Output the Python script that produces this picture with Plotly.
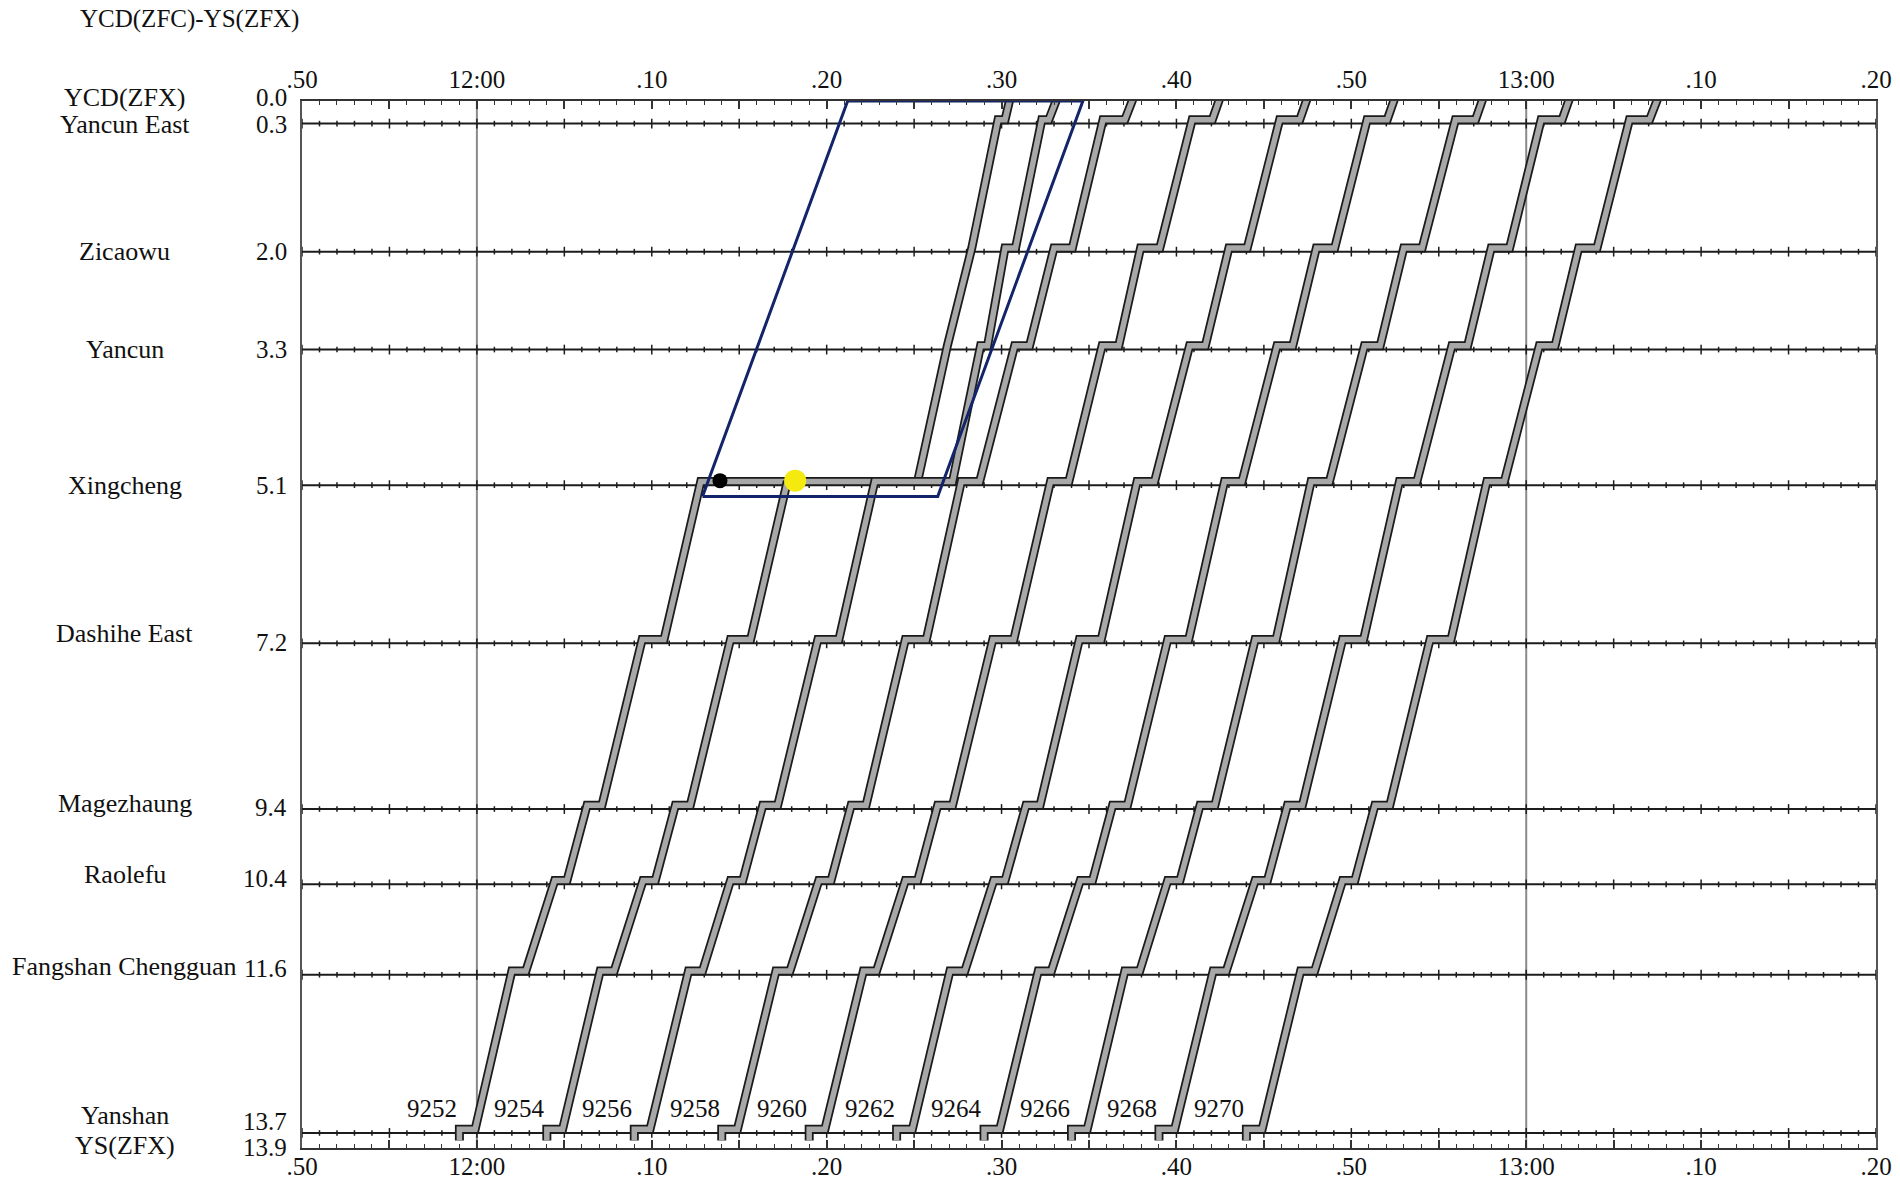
import plotly.graph_objects as go

# stations along the line, km from YCD(ZFX)
station_names = ["YCD(ZFX)", "Yancun East", "Zicaowu", "Yancun", "Xingcheng", "Dashihe East",
                 "Magezhaung", "Raolefu", "Fangshan Chengguan", "Yanshan", "YS(ZFX)"]
station_km = [0.0, 0.3, 2.0, 3.3, 5.1, 7.2, 9.4, 10.4, 11.6, 13.7, 13.9]
station_km_text = ["0.0", "0.3", "2.0", "3.3", "5.1", "7.2", "9.4", "10.4", "11.6", "13.7", "13.9"]

# stops of the up trains: Yanshan -> YCD(ZFX)
route_km = [13.7, 11.6, 10.4, 9.4, 7.2, 5.1, 3.3, 2.0, 0.3, 0.0]

# time axis (minutes after 12:00)
time_ticks = [-10, 0, 10, 20, 30, 40, 50, 60, 70, 80]
time_labels = [".50", "12:00", ".10", ".20", ".30", ".40", ".50", "13:00", ".10", ".20"]
hour_lines = [0, 60]

# arrival / departure per stop of route_km, minutes after 12:00
train_ids = ["9252", "9254", "9256", "9258", "9260", "9262", "9264", "9266", "9268", "9270"]
arr_9252 = [-1.0, 2.0, 4.45, 6.3, 9.45, 12.8, 26.9, 28.3, 29.8, 30.5]
dep_9252 = [-0.1, 2.8, 5.15, 7.15, 10.7, 25.2, 26.9, 28.3, 30.2]
arr_9254 = [4.0, 7.05, 9.5, 11.35, 14.5, 17.75, None, None, None, None]
dep_9254 = [4.9, 7.85, 10.2, 12.2, 15.65, None, None, None, None]
arr_9256 = [9.0, 12.1, 14.5, 16.35, 19.5, 22.75, 28.8, 30.2, 32.3, 33.2]
dep_9256 = [9.9, 12.9, 15.2, 17.2, 20.7, 27.2, 29.2, 30.8, 32.7]
arr_9258 = [14.0, 17.1, 19.55, 21.4, 24.5, 27.7, 30.75, 33.0, 35.8, 37.55]
dep_9258 = [14.9, 17.9, 20.25, 22.25, 25.7, 28.75, 31.6, 34.05, 37.05]
arr_9260 = [19.0, 22.1, 24.5, 26.35, 29.5, 32.8, 35.75, 37.95, 40.9, 42.5]
dep_9260 = [19.9, 22.85, 25.2, 27.2, 30.7, 33.85, 36.7, 39.05, 42.05]
arr_9262 = [24.0, 27.05, 29.55, 31.4, 34.45, 37.75, 40.75, 43.0, 45.9, 47.5]
dep_9262 = [24.9, 27.9, 30.2, 32.2, 35.7, 38.75, 41.65, 44.05, 47.05]
arr_9264 = [29.0, 32.1, 34.5, 36.35, 39.5, 42.75, 45.75, 48.0, 50.9, 52.5]
dep_9264 = [29.9, 32.85, 35.2, 37.2, 40.7, 43.75, 46.65, 49.05, 52.05]
arr_9266 = [34.0, 37.05, 39.5, 41.35, 44.5, 47.7, 50.75, 53.0, 55.95, 57.55]
dep_9266 = [34.9, 37.9, 40.2, 42.2, 45.7, 48.75, 51.65, 54.05, 57.1]
arr_9268 = [39.0, 42.1, 44.5, 46.35, 49.5, 52.75, 55.75, 58.0, 60.85, 62.5]
dep_9268 = [39.9, 42.85, 45.2, 47.2, 50.7, 53.75, 56.65, 59.05, 62.05]
arr_9270 = [44.0, 47.1, 49.5, 51.35, 54.5, 57.75, 60.75, 63.0, 65.9, 67.55]
dep_9270 = [44.9, 47.9, 50.2, 52.2, 55.7, 58.75, 61.65, 64.05, 67.05]

arrivals = [arr_9252, arr_9254, arr_9256, arr_9258, arr_9260,
            arr_9262, arr_9264, arr_9266, arr_9268, arr_9270]
departures = [dep_9252, dep_9254, dep_9256, dep_9258, dep_9260,
              dep_9262, dep_9264, dep_9266, dep_9268, dep_9270]

# disruption window at Xingcheng (time, km) and the two event markers
window_t = [12.9, 21.2, 34.65, 26.35, 12.9]
window_km = [5.25, 0.0, 0.0, 5.25, 5.25]
fault_t, fault_km = [13.9], [5.04]
rescue_t, rescue_km = [18.2], [5.04]

SERIF = "Liberation Serif, Times New Roman, serif"
BAND_SHIFT = 0.05  # bands sit just above the station line


def train_path(arr, dep):
    xs, ys = [arr[0]], [13.8]  # leaves the depot track below Yanshan
    for k, a, d in zip(route_km, arr, dep + [None]):
        if a is None:
            break
        xs.append(a)
        ys.append(k - BAND_SHIFT)
        if d is not None and d != a:
            xs.append(d)
            ys.append(k - BAND_SHIFT)
    return xs, ys


fig = go.Figure()

# 12:00 / 13:00 lines
for h in hour_lines:
    fig.add_trace(go.Scatter(x=[h, h], y=[0, 13.9], mode="lines",
                             line=dict(color="#8a8a8a", width=2), hoverinfo="skip"))

# station lines with minute ticks
inner_km = [k for k in station_km if 0 < k < 13.9]
for k in inner_km:
    fig.add_trace(go.Scatter(x=[-10, 80], y=[k, k], mode="lines",
                             line=dict(color="#1c1c1c", width=2), hoverinfo="skip"))
minor_x = [m for m in range(-10, 81) if m % 5 != 0]
major_x = [m for m in range(-10, 81) if m % 5 == 0]
for xs, sz in [(minor_x, 4), (major_x, 7)]:
    fig.add_trace(go.Scatter(
        x=[m for k in inner_km for m in xs],
        y=[k for k in inner_km for m in xs],
        mode="markers",
        marker=dict(symbol="line-ns", size=sz, line=dict(color="#1c1c1c", width=1.5)),
        hoverinfo="skip"))

# train paths
for tid, arr, dep in zip(train_ids, arrivals, departures):
    xs, ys = train_path(arr, dep)
    fig.add_trace(go.Scatter(x=xs, y=ys, mode="lines", line=dict(color="#1a1a1a", width=9),
                             hoverinfo="skip"))
    fig.add_trace(go.Scatter(x=xs, y=ys, mode="lines", line=dict(color="#a8a8a8", width=5.5),
                             name=tid))
    fig.add_annotation(x=arr[0], y=13.37, text=tid, showarrow=False, xanchor="right",
                       yanchor="middle", font=dict(family=SERIF, size=25, color="#111"))

fig.add_trace(go.Scatter(x=window_t, y=window_km, mode="lines",
                         line=dict(color="#14246a", width=3), hoverinfo="skip"))
fig.add_trace(go.Scatter(x=fault_t, y=fault_km, mode="markers",
                         marker=dict(color="black", size=15), hoverinfo="skip"))
fig.add_trace(go.Scatter(x=rescue_t, y=rescue_km, mode="markers",
                         marker=dict(color="#f4ea10", size=22), hoverinfo="skip"))

# invisible trace so the top time axis is drawn
fig.add_trace(go.Scatter(x=[-10, 80], y=[0, 0], xaxis="x2", mode="lines",
                         line=dict(width=0), hoverinfo="skip"))

# station names and kilometre marks (yshift > 0 moves up)
name_shift = [4, -1, 0, 0, 0, 10, 6, 10, 8, 17, 3]
km_shift = [4, -1, 0, 0, 0, 1, 2, 6, 6, 11, 1]
for name, k, txt, ns, ks in zip(station_names, station_km, station_km_text, name_shift, km_shift):
    fig.add_annotation(xref="paper", x=-0.1125, y=k, text=name, showarrow=False,
                       xanchor="center", yanchor="middle", yshift=ns,
                       font=dict(family=SERIF, size=26, color="#111"))
    fig.add_annotation(xref="paper", x=-0.0083, y=k, text=txt, showarrow=False,
                       xanchor="right", yanchor="middle", yshift=ks,
                       font=dict(family=SERIF, size=25, color="#111"))

fig.add_annotation(xref="paper", yref="paper", x=-0.1423, y=1.0783, text="YCD(ZFC)-YS(ZFX)",
                   showarrow=False, xanchor="left", yanchor="middle",
                   font=dict(family=SERIF, size=25, color="#111"))

tick_vals = list(range(-10, 81, 5))
tick_text = [time_labels[time_ticks.index(v)] if v in time_ticks else "" for v in tick_vals]
time_axis = dict(
    range=[-10, 80], tickmode="array", tickvals=tick_vals, ticktext=tick_text,
    ticks="inside", ticklen=8, tickwidth=1.5, tickcolor="#333",
    minor=dict(tickmode="linear", tick0=0, dtick=1, ticks="inside", ticklen=4,
               tickwidth=1.2, tickcolor="#333"),
    showline=True, linecolor="#333", linewidth=2, showgrid=False, zeroline=False,
    tickfont=dict(family=SERIF, size=25, color="#111"), automargin=False,
)

fig.update_layout(
    width=1900, height=1184,
    margin=dict(l=302, r=24, t=101, b=36, autoexpand=False),
    plot_bgcolor="white", paper_bgcolor="white",
    showlegend=False,
    xaxis=dict(**time_axis, ticklabelstandoff=-5),
    xaxis2=dict(**time_axis, overlaying="x", side="top", matches="x", ticklabelstandoff=1),
    yaxis=dict(range=[13.9, 0], showline=True, mirror=True, linecolor="#555", linewidth=2,
               showticklabels=False, ticks="", showgrid=False, zeroline=False,
               automargin=False),
)

# drop the default page margin so the figure fills the window exactly
fig.write_html("out.html", config={"displayModeBar": False},
               post_script="document.body.style.margin='0';document.body.style.overflow='hidden';")
